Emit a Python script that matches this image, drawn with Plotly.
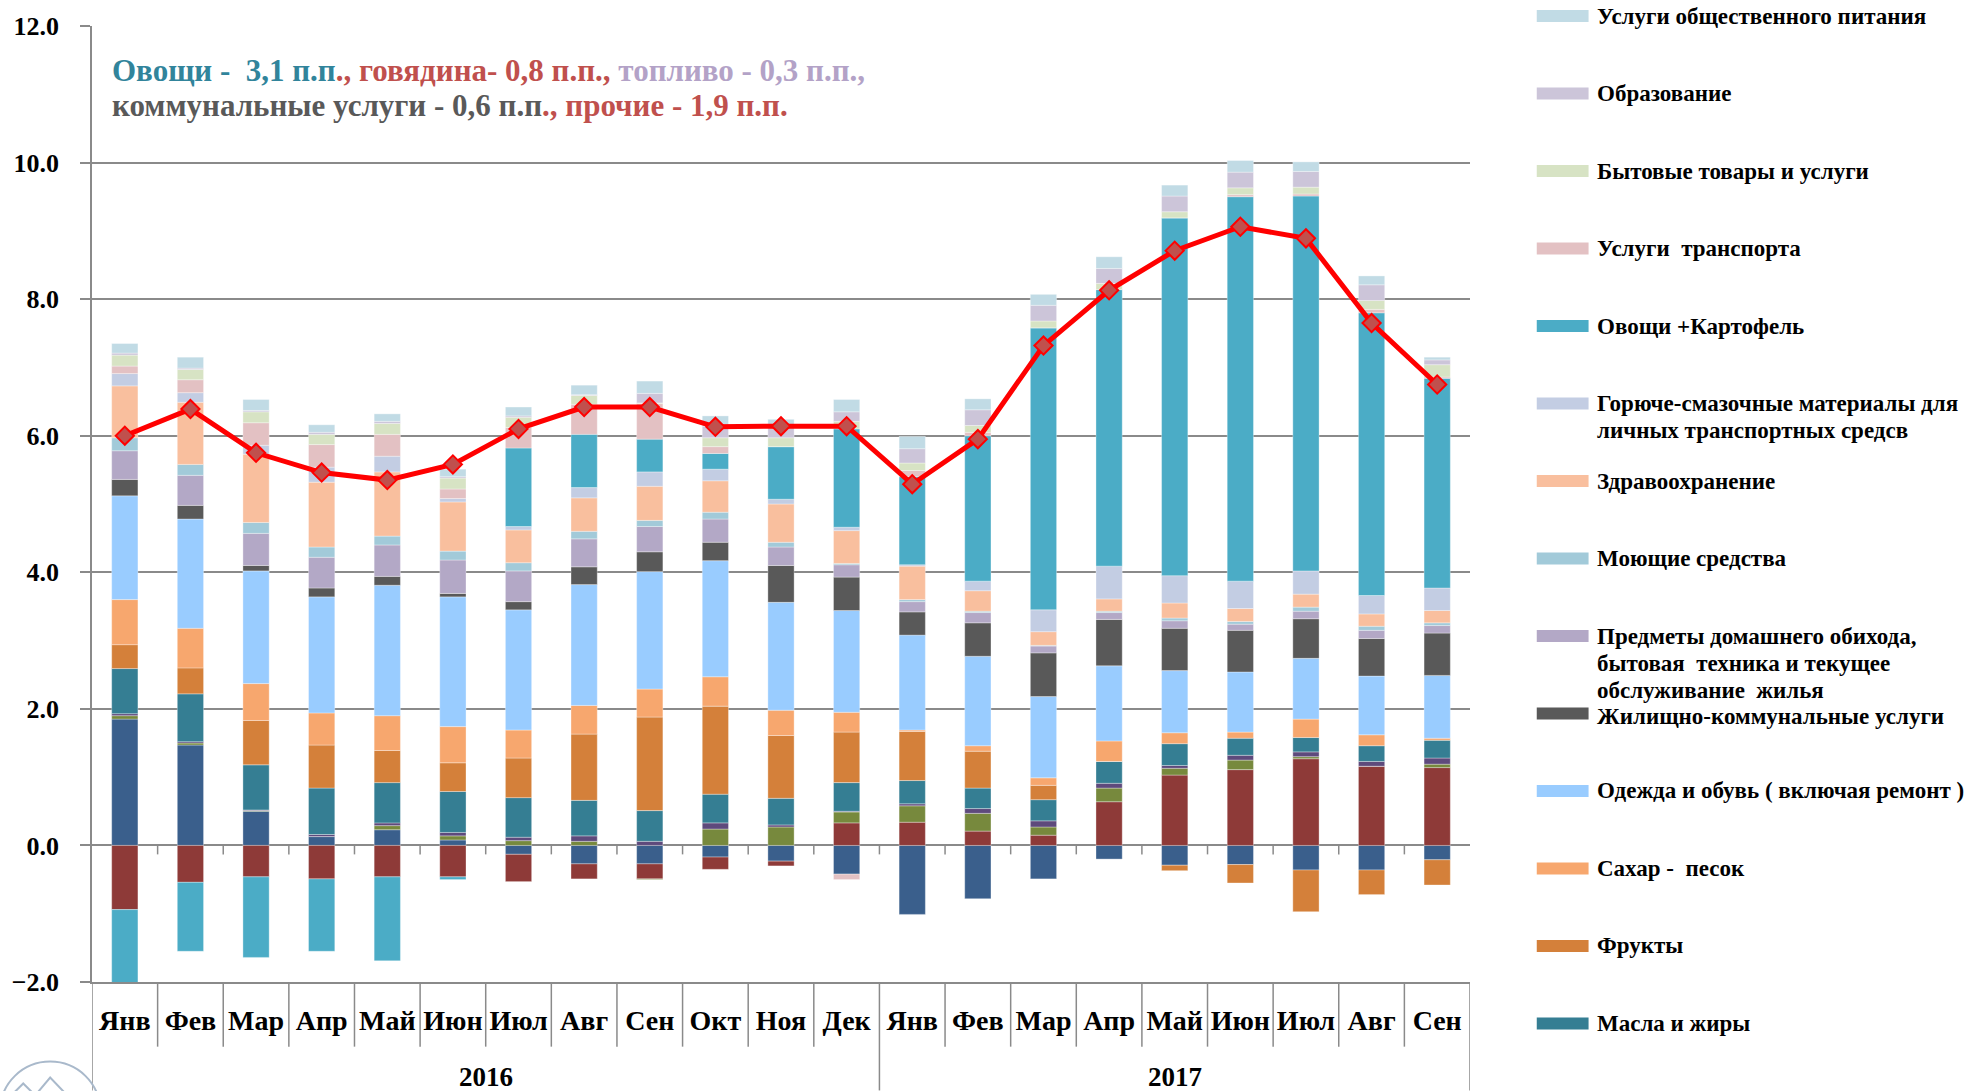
import plotly.graph_objects as go

# ---------------- data ----------------
months = ["Янв", "Фев", "Мар", "Апр", "Май", "Июн", "Июл", "Авг", "Сен", "Окт", "Ноя", "Дек",
          "Янв", "Фев", "Мар", "Апр", "Май", "Июн", "Июл", "Авг", "Сен"]
years = ["2016", "2017"]

krupy       = [1.85, 1.47, 0.50, 0.13, 0.23, 0.08, -0.13, -0.27, -0.27, -0.17, -0.23, -0.42, -1.01, -0.78, -0.49, -0.20, -0.29, -0.28, -0.36, -0.36, -0.21]
myaso       = [-0.94, -0.54, -0.46, -0.49, -0.46, -0.46, -0.40, -0.22, -0.22, -0.18, -0.07, 0.33, 0.34, 0.21, 0.15, 0.64, 1.03, 1.11, 1.27, 1.16, 1.14]
yajca       = [0.05, 0.03, 0.01, 0.00, 0.06, 0.06, 0.07, 0.06, -0.01, 0.24, 0.27, 0.16, 0.24, 0.26, 0.12, 0.20, 0.10, 0.14, 0.03, 0.00, 0.05]
moloko      = [0.03, 0.02, 0.01, 0.03, 0.04, 0.05, 0.05, 0.08, 0.06, 0.09, 0.03, 0.01, 0.03, 0.07, 0.09, 0.07, 0.04, 0.07, 0.07, 0.07, 0.09]
masla       = [0.66, 0.70, 0.66, 0.68, 0.59, 0.60, 0.58, 0.52, 0.45, 0.42, 0.39, 0.42, 0.34, 0.30, 0.31, 0.32, 0.32, 0.25, 0.21, 0.23, 0.26]
frukty      = [0.35, 0.38, 0.65, 0.63, 0.47, 0.42, 0.58, 0.97, 1.37, 1.29, 0.92, 0.74, 0.72, 0.54, 0.21, 0.00, -0.08, -0.27, -0.61, -0.36, -0.37]
sahar       = [0.66, 0.58, 0.54, 0.47, 0.51, 0.53, 0.41, 0.42, 0.41, 0.43, 0.37, 0.29, 0.02, 0.08, 0.11, 0.30, 0.16, 0.09, 0.27, 0.16, 0.03]
odezhda     = [1.52, 1.60, 1.65, 1.70, 1.91, 1.90, 1.76, 1.77, 1.72, 1.70, 1.58, 1.49, 1.39, 1.31, 1.19, 1.10, 0.91, 0.88, 0.89, 0.86, 0.92]
zhku        = [0.24, 0.20, 0.08, 0.13, 0.13, 0.05, 0.12, 0.26, 0.29, 0.27, 0.54, 0.49, 0.34, 0.49, 0.64, 0.68, 0.62, 0.61, 0.58, 0.55, 0.62]
predmety    = [0.42, 0.44, 0.47, 0.45, 0.46, 0.49, 0.45, 0.41, 0.37, 0.34, 0.27, 0.18, 0.15, 0.15, 0.10, 0.10, 0.11, 0.09, 0.11, 0.12, 0.11]
moyushchie  = [0.19, 0.16, 0.16, 0.15, 0.13, 0.13, 0.12, 0.11, 0.09, 0.10, 0.07, 0.02, 0.03, 0.02, 0.01, 0.02, 0.04, 0.04, 0.06, 0.06, 0.04]
zdrav       = [0.76, 0.91, 1.00, 0.95, 0.94, 0.72, 0.48, 0.49, 0.50, 0.46, 0.56, 0.48, 0.49, 0.30, 0.20, 0.18, 0.22, 0.19, 0.19, 0.18, 0.18]
gsm         = [0.18, 0.14, 0.13, 0.22, 0.23, 0.05, 0.05, 0.15, 0.21, 0.17, 0.07, 0.05, 0.02, 0.14, 0.32, 0.48, 0.40, 0.40, 0.34, 0.27, 0.33]
ovoshchi    = [-1.10, -1.01, -1.18, -1.06, -1.23, -0.04, 1.15, 0.78, 0.48, 0.23, 0.77, 1.44, 1.29, 2.13, 4.13, 4.05, 5.24, 5.63, 5.49, 4.14, 3.07]
transport   = [0.11, 0.19, 0.33, 0.33, 0.32, 0.14, 0.30, 0.44, 0.52, 0.10, 0.00, -0.08, 0.09, 0.05, 0.00, 0.00, 0.00, 0.03, 0.03, 0.05, 0.02]
bytovye     = [0.16, 0.15, 0.16, 0.15, 0.16, 0.16, 0.15, 0.13, 0.01, 0.13, 0.13, 0.11, 0.11, 0.10, 0.10, 0.09, 0.09, 0.10, 0.10, 0.13, 0.18]
obrazovanie = [0.03, 0.02, 0.02, 0.03, 0.03, 0.02, 0.02, 0.01, 0.14, 0.17, 0.15, 0.14, 0.21, 0.23, 0.23, 0.22, 0.23, 0.23, 0.23, 0.23, 0.07]
obshchepit  = [0.14, 0.16, 0.16, 0.11, 0.11, 0.11, 0.13, 0.14, 0.18, 0.15, 0.12, 0.18, 0.18, 0.16, 0.16, 0.17, 0.16, 0.17, 0.14, 0.13, 0.04]

cpi = [6.00, 6.39, 5.75, 5.46, 5.35, 5.58, 6.10, 6.42, 6.42, 6.13, 6.14, 6.14,
       5.29, 5.95, 7.32, 8.13, 8.71, 9.06, 8.89, 7.65, 6.75]

# stacking order (bottom -> top), legend label lines, colour, shown in legend
series = [
    (krupy,       ["Крупы"], "#3A5F8C", False),
    (myaso,       ["Мясо"], "#8E3A38", False),
    (yajca,       ["Яйца"], "#77893D", False),
    (moloko,      ["Молочные продукты"], "#5E4A7C", False),
    (masla,       ["Масла и жиры"], "#357E93", True),
    (frukty,      ["Фрукты"], "#D4803A", True),
    (sahar,       ["Сахар -  песок"], "#F7A76E", True),
    (odezhda,     ["Одежда и обувь ( включая ремонт )"], "#99CCFF", True),
    (zhku,        ["Жилищно-коммунальные услуги"], "#595959", True),
    (predmety,    ["Предметы домашнего обихода,", "бытовая  техника и текущее", "обслуживание  жилья"], "#B3A8C6", True),
    (moyushchie,  ["Моющие средства"], "#A2CAD9", True),
    (zdrav,       ["Здравоохранение"], "#F9BF9E", True),
    (gsm,         ["Горюче-смазочные материалы для", "личных транспортных средсв"], "#C3CDE3", True),
    (ovoshchi,    ["Овощи +Картофель"], "#4BACC6", True),
    (transport,   ["Услуги  транспорта"], "#E3C1C3", True),
    (bytovye,     ["Бытовые товары и услуги"], "#D7E3C4", True),
    (obrazovanie, ["Образование"], "#CCC5D9", True),
    (obshchepit,  ["Услуги общественного питания"], "#C1DBE5", True),
]

# ---------------- geometry helpers (pixels -> paper) ----------------
W, H = 1979, 1091
L, R, T, B = 87, 1470, 21, 982
PW, PH = R - L, B - T


def px(xp):
    return (xp - L) / PW


def py(yp):
    return (B - yp) / PH


FONT = "Liberation Serif"
GRID = "#8A8A8A"

xs = list(range(len(months)))
fig = go.Figure()

for vals, label, color, _ in series:
    fig.add_trace(go.Bar(
        x=xs, y=vals, name=" ".join(label), width=0.4,
        marker=dict(color=color, line=dict(color="rgba(255,255,255,0.55)", width=0.6)),
        showlegend=False,
    ))

fig.add_trace(go.Scatter(
    x=xs, y=cpi, mode="lines+markers", name="ИПЦ", showlegend=False,
    line=dict(color="#FF0000", width=5),
    marker=dict(symbol="diamond", size=14, color="#C0504D", line=dict(color="#FF0000", width=2)),
))

shapes = []
annotations = []

# small ticks on the zero line and separators below the category axis
for i in range(len(months) - 1):
    b = i + 0.5
    shapes.append(dict(type="line", xref="x", yref="y", x0=b, x1=b, y0=0, y1=-9 / 68.65,
                       line=dict(color=GRID, width=1.5)))
    long_sep = months[i + 1] == "Янв"
    shapes.append(dict(type="line", xref="x", yref="paper", x0=b, x1=b, y0=0,
                       y1=py(1091) if long_sep else py(1047),
                       line=dict(color=GRID, width=1.5)))
for b in (-0.5, len(months) - 0.5):
    shapes.append(dict(type="line", xref="x", yref="paper", x0=b, x1=b, y0=0, y1=py(1091),
                       line=dict(color=GRID, width=1.5)))

# year labels
year_pos = [5.5, 16.0]
for yr, xc in zip(years, year_pos):
    annotations.append(dict(x=xc, y=py(1077), xref="x", yref="paper", text=f"<b>{yr}</b>",
                            showarrow=False, font=dict(family=FONT, size=27, color="#000000"),
                            xanchor="center", yanchor="middle"))

# manual legend (Excel-style fixed slots)
legend_items = [s for s in series if s[3]][::-1]
slot0, slot = 11, 77.9
for k, (vals, label, color, _) in enumerate(legend_items):
    yc = slot0 + slot * k
    shapes.append(dict(type="rect", xref="paper", yref="paper", x0=px(1537), x1=px(1589),
                       y0=py(yc + 6), y1=py(yc - 6), fillcolor=color, line=dict(width=0)))
    text_y0 = yc + (3 if len(label) == 1 and k == 9 else 0)
    for j, line in enumerate(label):
        annotations.append(dict(x=px(1595), y=py(text_y0 + 27.5 * j), xref="paper", yref="paper",
                                text=f"<b>{line}</b>", showarrow=False, xanchor="left",
                                yanchor="middle",
                                font=dict(family=FONT, size=23, color="#000000")))

# top-left commentary
line1 = ('<b><span style="color:#31849B">Овощи -  3,1 п.п</span>'
         '<span style="color:#C0504D">., говядина- 0,8 п.п.,</span>'
         '<span style="color:#B3A2C7"> топливо - 0,3 п.п.,</span></b>')
line2 = ('<b><span style="color:#595959">коммунальные услуги - 0,6 п.п</span>'
         '<span style="color:#C0504D">., прочие - 1,9 п.п.</span></b>')
for txt, yc in ((line1, 66), (line2, 101)):
    annotations.append(dict(x=px(105), y=py(yc), xref="paper", yref="paper", text=txt,
                            showarrow=False, xanchor="left", yanchor="middle",
                            font=dict(family=FONT, size=31)))

# partial logo bottom-left
shapes.append(dict(type="circle", xref="paper", yref="paper", x0=px(-5), x1=px(95),
                   y0=py(1160), y1=py(1062), line=dict(color="#A9B9CB", width=2)))
shapes.append(dict(type="path", xref="paper", yref="paper",
                   path=f"M {px(2)},{py(1100)} L {px(18)},{py(1084)} L {px(30)},{py(1096)} "
                        f"L {px(45)},{py(1078)} L {px(66)},{py(1100)}",
                   line=dict(color="#A9B9CB", width=2)))

fig.update_layout(
    width=W, height=H,
    margin=dict(l=L, r=W - R, t=T, b=H - B, pad=0),
    paper_bgcolor="white", plot_bgcolor="white",
    barmode="relative",
    shapes=shapes, annotations=annotations,
    showlegend=False,
    font=dict(family=FONT, color="#000000"),
)
fig.update_xaxes(
    range=[-0.5, len(months) - 0.5], tickmode="array", tickvals=xs, ticktext=months,
    ticks="", showgrid=False, zeroline=False, showline=True, linecolor=GRID, linewidth=1.5,
    tickfont=dict(family=FONT, size=28, color="#000000", weight="bold"), ticklabelstandoff=13,
)
fig.update_yaxes(
    range=[-2, 12], dtick=2, tick0=0, tickformat=".1f", showgrid=True, gridcolor=GRID,
    gridwidth=1.5, zeroline=False, showline=True, linecolor=GRID, linewidth=1.5,
    ticks="outside", ticklen=10, tickcolor=GRID, tickwidth=1.5,
    tickfont=dict(family=FONT, size=26, color="#000000", weight="bold"), ticklabelstandoff=16,
)

fig.write_html("out.html", config={"displayModeBar": False},
               post_script="document.body.style.margin='0';document.body.style.overflow='hidden';")
